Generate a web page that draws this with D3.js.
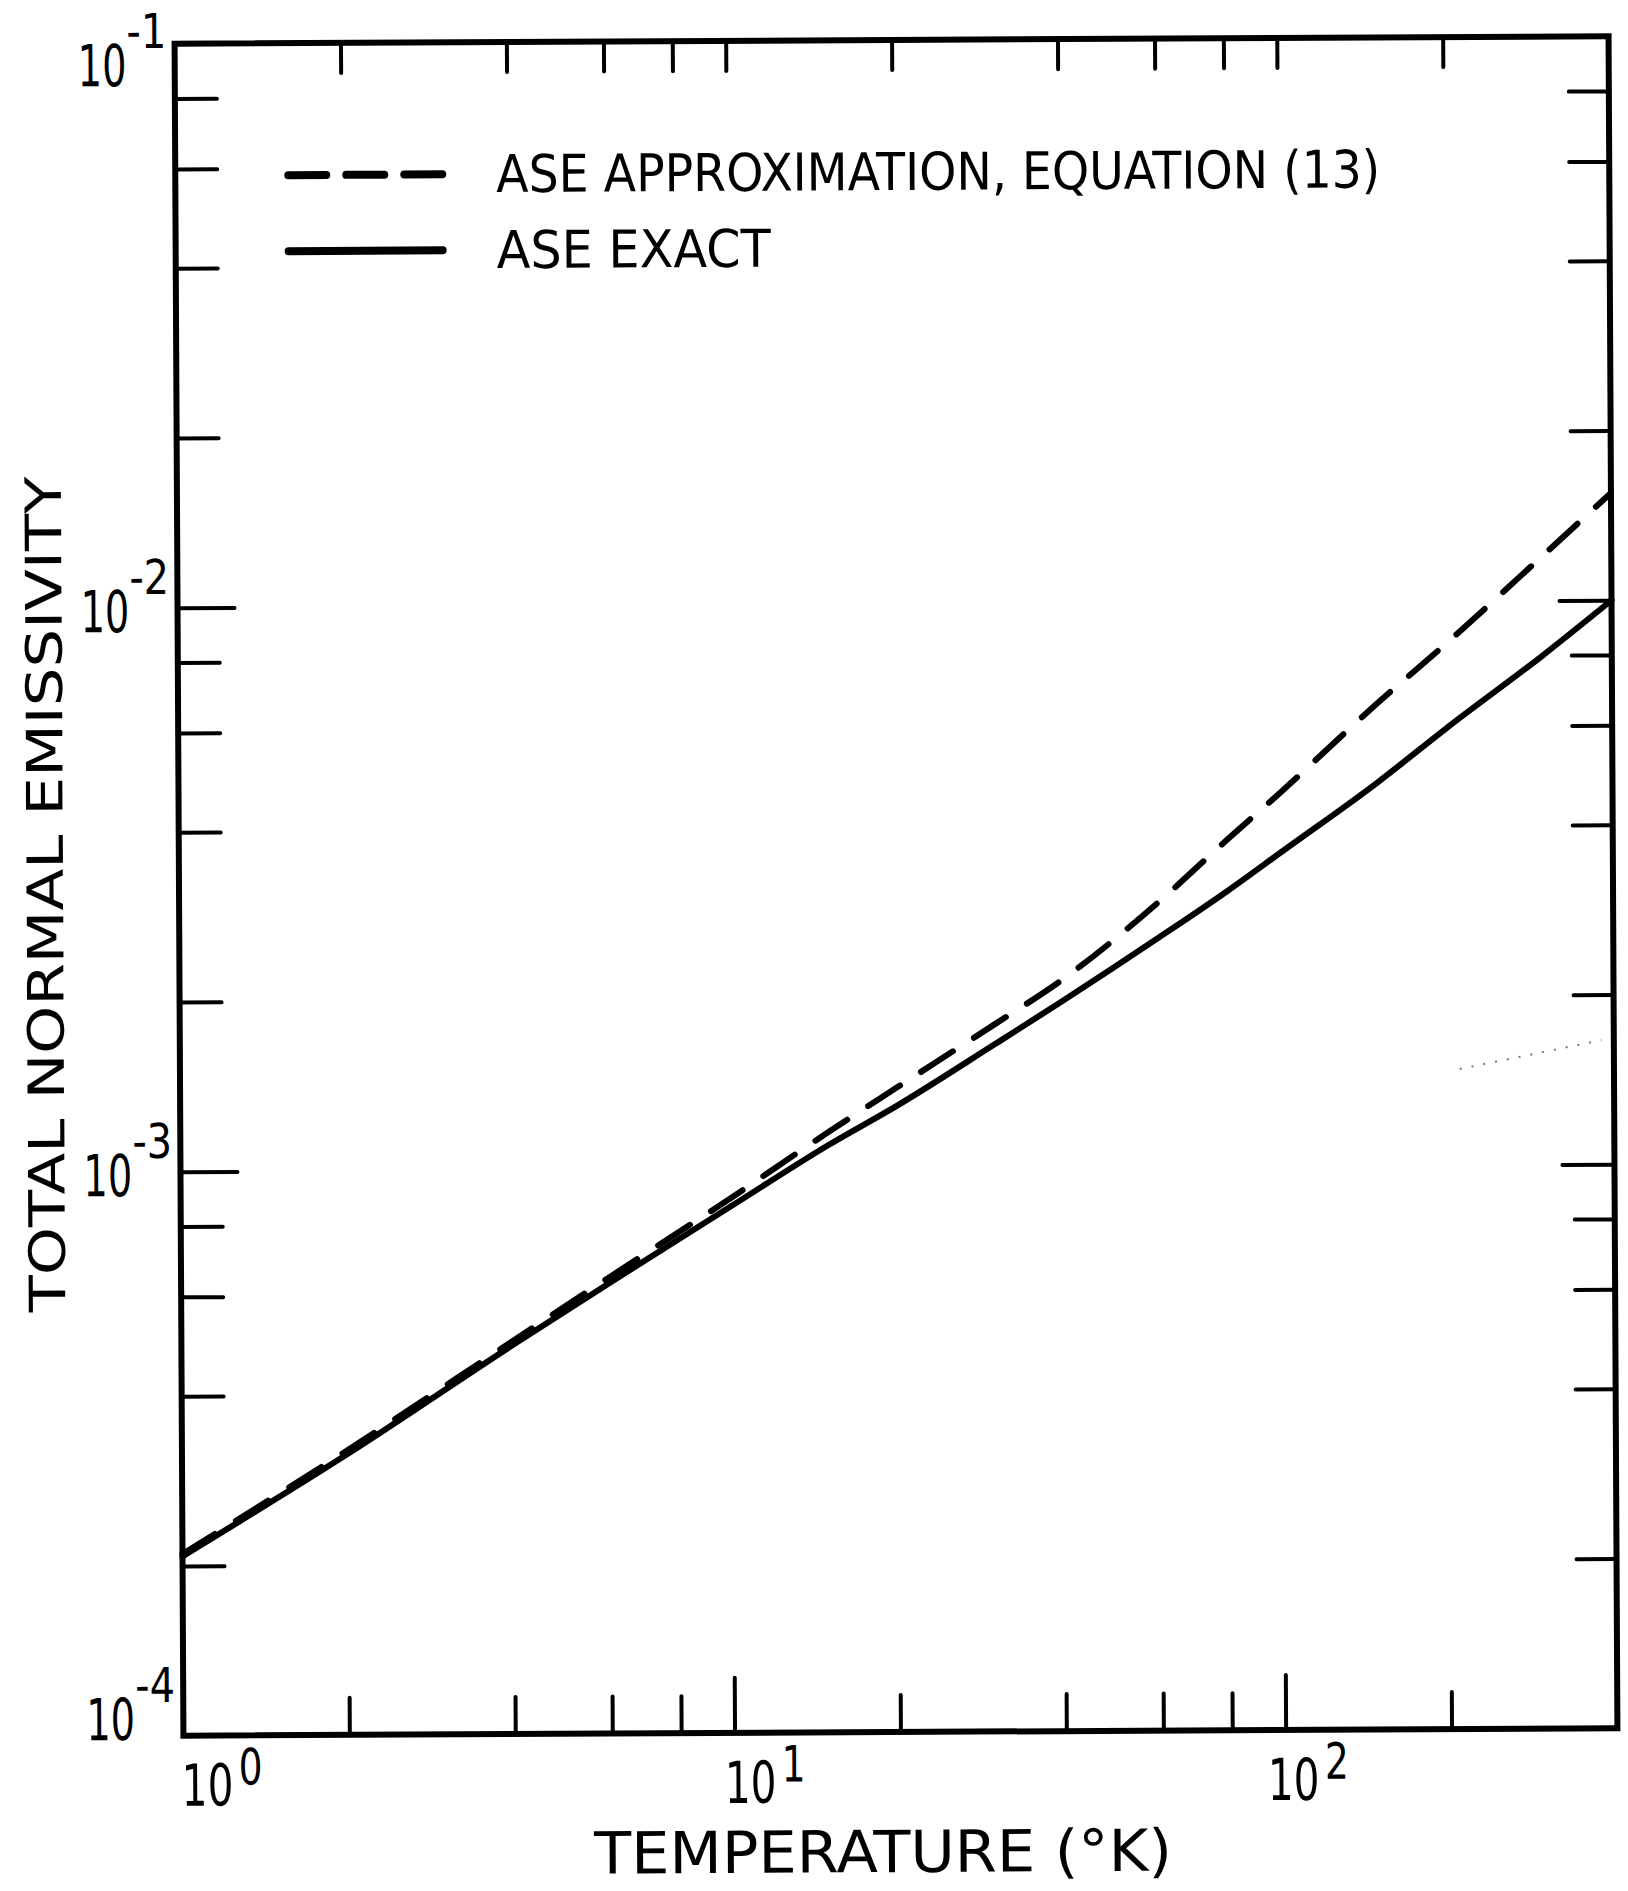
<!DOCTYPE html>
<html>
<head>
<meta charset="utf-8">
<script src="https://cdn.jsdelivr.net/npm/d3@7"></script>
<style>
  body { margin: 0; background: #fff; }
  svg { display: block; }
</style>
</head>
<body>
<div id="chart"></div>
<script>
// temperatures (K) and the two emissivity curves
const temps  = [1, 2, 4, 6, 10, 15, 20, 30, 40, 60, 80, 100, 150, 200, 300, 400];
const exact  = [2.08e-4, 3.15e-4, 4.9e-4, 6.3e-4, 8.6e-4, 1.1e-3, 1.29e-3, 1.65e-3, 1.97e-3,
                2.55e-3, 3.08e-3, 3.6e-3, 4.78e-3, 5.95e-3, 8.0e-3, 1.0e-2];
const approx = [2.1e-4, 3.2e-4, 4.98e-4, 6.45e-4, 8.9e-4, 1.16e-3, 1.39e-3, 1.79e-3, 2.15e-3,
                2.95e-3, 3.8e-3, 4.6e-3, 6.6e-3, 8.4e-3, 1.2e-2, 1.55e-2];

// faint dotted scan mark near the right edge
const strayT = [210, 380];
const strayE = [1.48e-3, 1.66e-3];

const xMinor = [2, 4, 6, 8, 20, 40, 60, 80, 200];
const xMajor = [10, 100];
const yMinor = [2e-4, 4e-4, 6e-4, 8e-4, 2e-3, 4e-3, 6e-3, 8e-3, 2e-2, 4e-2, 6e-2, 8e-2];
const yMajor = [1e-3, 1e-2];
const xExps = [0, 1, 2];
const yExps = [-1, -2, -3, -4];

const legendLabels = ["ASE APPROXIMATION, EQUATION (13)", "ASE EXACT"];

const width = 1628;
const height = 1891;
const font = "'DejaVu Sans', sans-serif";

const x = d3.scaleLog().domain([1, 400]).range([179, 1613]);
const y = d3.scaleLog().domain([1e-4, 1e-1]).range([1732, 40]);

const svg = d3.select('#chart')
    .append('svg')
    .attr("width", width)
    .attr("height", height);

// the scan is turned a little, so the whole drawing is too
const g = svg.append("g")
    .attr("transform", "rotate(-0.3, 896, 886)");

g.append("rect")
    .attr("x", x(1))
    .attr("y", y(1e-1))
    .attr("width", x(400) - x(1))
    .attr("height", y(1e-4) - y(1e-1))
    .attr("fill", "none")
    .attr("stroke", "#000")
    .attr("stroke-width", 6);

function ticks(axis, vals, size, transform) {
  g.append("g")
      .attr("transform", transform)
      .call(axis.tickValues(vals).tickSize(size).tickFormat(""))
      .call(a => a.select(".domain").remove())
    .selectAll("line")
      .attr("stroke", "#000")
      .attr("stroke-width", 4)
      .attr("stroke-linecap", "round");
}

ticks(d3.axisBottom(x), xMinor, -37, `translate(0,${y(1e-4)})`);
ticks(d3.axisBottom(x), xMajor, -55, `translate(0,${y(1e-4)})`);
ticks(d3.axisTop(x), xMinor.concat(xMajor), -30, `translate(0,${y(1e-1)})`);
ticks(d3.axisLeft(y), yMinor, -42, `translate(${x(1)},0)`);
ticks(d3.axisLeft(y), yMajor, -57, `translate(${x(1)},0)`);
ticks(d3.axisRight(y), yMinor, -40, `translate(${x(400)},0)`);
ticks(d3.axisRight(y), yMajor, -52, `translate(${x(400)},0)`);

// curves
const line = d3.line()
    .x(d => x(d[0]))
    .y(d => y(d[1]))
    .curve(d3.curveMonotoneX);

g.append("path")
    .datum(temps.map((t, i) => [t, exact[i]]))
    .attr("d", line)
    .attr("fill", "none")
    .attr("stroke", "#000")
    .attr("stroke-width", 6)
    .attr("stroke-linecap", "round");

g.append("path")
    .datum(temps.map((t, i) => [t, approx[i]]))
    .attr("d", line)
    .attr("fill", "none")
    .attr("stroke", "#000")
    .attr("stroke-width", 6)
    .attr("stroke-linecap", "round")
    .attr("stroke-dasharray", "38,25");

g.append("path")
    .datum(strayT.map((t, i) => [t, strayE[i]]))
    .attr("d", d3.line().x(d => x(d[0])).y(d => y(d[1])))
    .attr("fill", "none")
    .attr("stroke", "#777")
    .attr("stroke-width", 2)
    .attr("stroke-dasharray", "2,10");

// tick labels: "10" with exponent, squeezed sideways like the hand lettering
const xl = g.append("g").attr("font-family", font);
xExps.forEach(n => {
  const x0 = x(Math.pow(10, n)) - 2 - 8 * n;
  xl.append("text")
      .attr("transform", `translate(${x0},1802) scale(0.7,1)`)
      .attr("font-size", 58)
      .text("10");
  xl.append("text")
      .attr("transform", `translate(${x0 + 57},1781) scale(0.75,1)`)
      .attr("font-size", 50)
      .text(n);
});

const yl = g.append("g").attr("font-family", font);
yExps.forEach((n, i) => {
  const v = Math.pow(10, n);
  let base = y(v) + 24;
  if (i === 0) base = y(v) + 42;
  if (i === yExps.length - 1) base = y(v) + 4;
  yl.append("text")
      .attr("transform", `translate(82,${base}) scale(0.66,1)`)
      .attr("font-size", 58)
      .text("10");
  yl.append("text")
      .attr("transform", `translate(131,${base - 38}) scale(0.83,1)`)
      .attr("font-size", 48)
      .text("-" + Math.abs(n));
});

// axis titles
g.append("text")
    .attr("font-family", font)
    .attr("font-size", 58)
    .attr("x", 589).attr("y", 1872)
    .attr("textLength", 578).attr("lengthAdjust", "spacingAndGlyphs")
    .text("TEMPERATURE (°K)");

g.append("text")
    .attr("font-family", font)
    .attr("font-size", 50)
    .attr("text-anchor", "middle")
    .attr("transform", "translate(63,890) rotate(-90)")
    .attr("textLength", 836).attr("lengthAdjust", "spacingAndGlyphs")
    .text("TOTAL NORMAL EMISSIVITY");

// legend
const legend = g.append("g").attr("font-family", font);
const legendY = [172, 248];
const legendLen = [884, 274];
legendLabels.forEach((lab, i) => {
  legend.append("line")
      .attr("x1", 292).attr("x2", 446)
      .attr("y1", legendY[i]).attr("y2", legendY[i])
      .attr("stroke", "#000")
      .attr("stroke-width", 8)
      .attr("stroke-linecap", "round")
      .attr("stroke-dasharray", i === 0 ? "38,20" : null);
  legend.append("text")
      .attr("x", 500).attr("y", legendY[i] + 18)
      .attr("font-size", 52)
      .attr("textLength", legendLen[i]).attr("lengthAdjust", "spacingAndGlyphs")
      .text(lab);
});
</script>
</body>
</html>
